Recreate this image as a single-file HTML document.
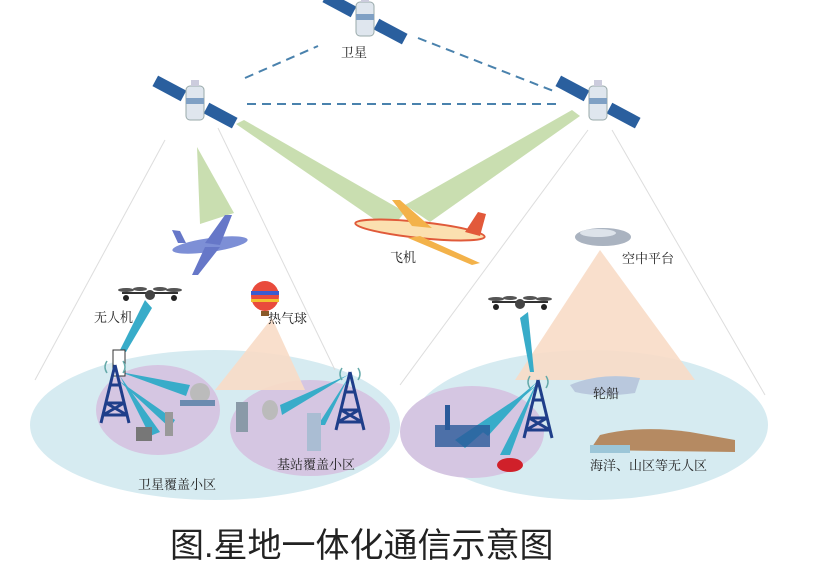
<!DOCTYPE html><html><head><meta charset="utf-8"><style>
body{margin:0;background:#fff;width:830px;height:578px;overflow:hidden}
svg text{font-family:"Liberation Serif","Noto Serif CJK SC",serif;fill:#222}
</style></head><body>
<svg width="830" height="578" viewBox="0 0 830 578" xmlns="http://www.w3.org/2000/svg">
<defs>
<g id="sat">
<rect x="-45" y="-6" width="32" height="12" fill="#2a5f9e" transform="rotate(28)"/>
<rect x="13" y="-6" width="32" height="12" fill="#2a5f9e" transform="rotate(28)"/>
<rect x="-9" y="-16" width="18" height="34" rx="4" fill="#dfe6ee" stroke="#9aa" stroke-width="1"/>
<rect x="-9" y="-4" width="18" height="6" fill="#7fa0c4"/>
<rect x="-4" y="-22" width="8" height="6" fill="#ccd"/>
</g>
<g id="drone">
<line x1="-28" y1="0" x2="28" y2="0" stroke="#333" stroke-width="2"/>
<ellipse cx="-24" cy="-3" rx="8" ry="2" fill="#555"/><ellipse cx="24" cy="-3" rx="8" ry="2" fill="#555"/>
<ellipse cx="-10" cy="-4" rx="7" ry="2" fill="#555"/><ellipse cx="10" cy="-4" rx="7" ry="2" fill="#555"/>
<circle cx="0" cy="2" r="5" fill="#444"/><circle cx="-24" cy="5" r="3" fill="#222"/><circle cx="24" cy="5" r="3" fill="#222"/>
</g>
<g id="tower" fill="none" stroke="#1f3e8a" stroke-width="3">
<path d="M0 -30 L-14 28 M0 -30 L14 28 M-9 8 L9 8 M-5 -10 L5 -10 M-12 20 L12 20 M-9 8 L12 20 M9 8 L-12 20"/>
<path d="M-8 -34 Q-12 -28 -8 -22 M8 -34 Q12 -28 8 -22" stroke="#6aa" stroke-width="1.5"/>
</g>
</defs>
<!-- ground ellipses -->
<ellipse cx="215" cy="425" rx="185" ry="75" fill="#d6ebf1"/>
<ellipse cx="590" cy="425" rx="178" ry="75" fill="#d6ebf1"/>
<ellipse cx="158" cy="410" rx="62" ry="45" fill="#d5c6e2"/>
<ellipse cx="310" cy="428" rx="80" ry="48" fill="#d5c6e2"/>
<ellipse cx="472" cy="432" rx="72" ry="46" fill="#d5c6e2"/>
<!-- coverage cone lines -->
<g stroke="#ddd" stroke-width="1" fill="none">
<line x1="165" y1="140" x2="35" y2="380"/><line x1="218" y1="128" x2="335" y2="370"/>
<line x1="588" y1="130" x2="400" y2="385"/><line x1="612" y1="130" x2="765" y2="395"/>
</g>
<!-- peach -->
<polygon points="600,250 515,380 695,380" fill="#f8dcc6" opacity=".9"/>
<polygon points="272,318 215,390 305,390" fill="#f8dcc6" opacity=".9"/>
<!-- green beams -->
<polygon points="197,147 234,213 200,224" fill="#c9deb0"/>
<polygon points="236,124 244,120 405,212 390,230" fill="#c9deb0"/>
<polygon points="572,110 580,116 430,222 405,205" fill="#c9deb0"/>
<!-- dashed -->
<g stroke="#4a82ad" stroke-width="2" stroke-dasharray="9,6">
<line x1="245" y1="78" x2="318" y2="46"/><line x1="418" y1="38" x2="556" y2="92"/>
<line x1="247" y1="104" x2="556" y2="104"/>
</g>
<use href="#sat" x="365" y="18"/><use href="#sat" x="195" y="102"/><use href="#sat" x="598" y="102"/>
<text x="341" y="57" font-size="13">卫星</text>
<!-- planes -->
<g transform="translate(210,245)">
<ellipse cx="0" cy="0" rx="38" ry="7" fill="#7d8fd6" transform="rotate(-8)"/>
<polygon points="-5,-2 15,-30 22,-30 10,0" fill="#6677c8"/>
<polygon points="-5,2 10,2 -12,30 -18,30" fill="#6677c8"/>
<polygon points="-32,-2 -38,-15 -30,-14 -24,-2" fill="#6677c8"/>
</g>
<g transform="translate(420,230)">
<ellipse cx="0" cy="0" rx="65" ry="8" fill="#fbe0b0" stroke="#e05a3a" stroke-width="2" transform="rotate(6)"/>
<polygon points="-8,-4 -28,-30 -20,-30 12,-2" fill="#f3b24a"/>
<polygon points="0,6 60,33 52,35 -12,8" fill="#f3b24a"/>
<polygon points="45,2 58,-18 66,-16 60,6" fill="#e2593a"/>
</g>
<text x="390" y="262" font-size="13">飞机</text>
<ellipse cx="603" cy="237" rx="28" ry="9" fill="#aab3c0"/><ellipse cx="598" cy="233" rx="18" ry="4" fill="#dde3ea"/>
<text x="622" y="263" font-size="13">空中平台</text>
<!-- drones & balloon -->
<use href="#drone" x="150" y="293"/><use href="#drone" x="520" y="302"/>
<ellipse cx="265" cy="296" rx="14" ry="15" fill="#e94b3c"/>
<rect x="251" y="291" width="28" height="4" fill="#3a5bd0"/><rect x="251" y="299" width="28" height="3" fill="#f2c12e"/>
<rect x="261" y="311" width="8" height="5" fill="#8a5a2a"/>
<text x="94" y="322" font-size="13">无人机</text>
<text x="268" y="323" font-size="13">热气球</text>
<!-- blue beams -->
<g fill="#38acc9">
<polygon points="145,300 152,308 126,352 120,350"/>
<polygon points="120,372 190,385 186,396"/>
<polygon points="120,376 160,432 150,436"/>
<polygon points="118,380 175,420 170,428"/>
<polygon points="348,375 280,405 282,415"/>
<polygon points="348,378 325,425 318,425"/>
<polygon points="528,312 520,318 530,372 534,372"/>
<polygon points="537,382 480,430 488,436"/>
<polygon points="537,382 510,455 500,455"/>
<polygon points="537,385 455,440 465,448"/>
</g>
<rect x="113" y="350" width="12" height="26" fill="#fff" stroke="#333"/>
<use href="#tower" x="115" y="395"/><use href="#tower" x="350" y="402"/><use href="#tower" x="538" y="410"/>
<!-- misc icons -->
<ellipse cx="200" cy="393" rx="10" ry="10" fill="#bbb"/><rect x="180" y="400" width="35" height="6" fill="#6b8bb0"/>
<rect x="165" y="412" width="8" height="24" fill="#999"/><rect x="136" y="427" width="16" height="14" fill="#777"/>
<rect x="236" y="402" width="12" height="30" fill="#8a9aa8"/><ellipse cx="270" cy="410" rx="8" ry="10" fill="#bbb"/>
<rect x="307" y="413" width="14" height="38" fill="#aabdd3"/>
<rect x="435" y="425" width="55" height="22" fill="#2a5a9a" opacity=".8"/><rect x="445" y="405" width="5" height="25" fill="#2a5a9a"/>
<ellipse cx="510" cy="465" rx="13" ry="7" fill="#d0202a"/>
<path d="M570 385 Q600 372 640 378 L635 393 Q600 398 575 392 Z" fill="#b9c8dd"/>
<text x="593" y="398" font-size="13">轮船</text>
<path d="M590 450 L600 435 Q640 425 690 432 L735 440 L735 452 Z" fill="#b58a62"/>
<rect x="590" y="445" width="40" height="8" fill="#9cc6d8"/>
<text x="590" y="470" font-size="13">海洋、山区等无人区</text>
<text x="138" y="489" font-size="13">卫星覆盖小区</text>
<text x="277" y="469" font-size="13">基站覆盖小区</text>
<text x="170" y="557" font-size="34" style='font-family:"Liberation Sans","Noto Sans CJK SC",sans-serif' fill="#111">图.星地一体化通信示意图</text>
</svg>
</body></html>
